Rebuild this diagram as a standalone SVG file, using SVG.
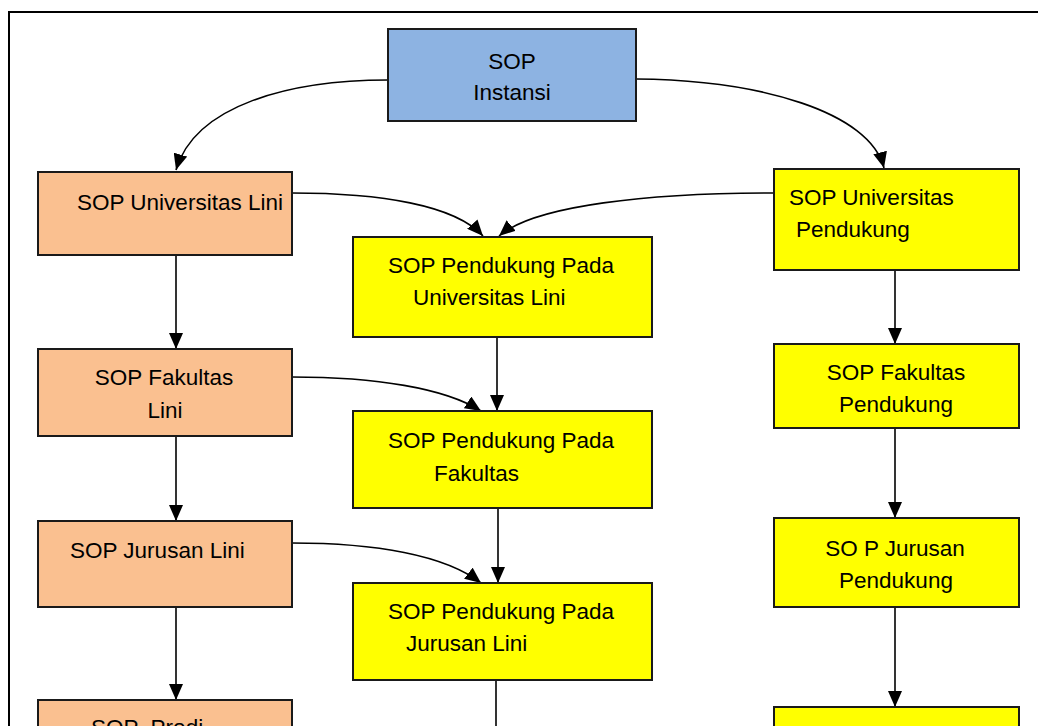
<svg xmlns="http://www.w3.org/2000/svg" width="1038" height="726" viewBox="0 0 1038 726">
<style>
.box{stroke:#1a1a1a;stroke-width:2}
.blue{fill:#8DB3E2}
.orange{fill:#FAC090}
.yellow{fill:#FFFF00}
text{font-family:"Liberation Sans",Arial,sans-serif;font-size:22.5px;fill:#000}
.c{text-anchor:middle}
.con{fill:none;stroke:#000;stroke-width:1.6;marker-end:url(#ah)}
</style>
<defs>
<marker id="ah" markerWidth="16" markerHeight="14" viewBox="0 0 16 14" refX="16" refY="7" orient="auto" markerUnits="userSpaceOnUse">
<path d="M0,0 L16,7 L0,14 Z" fill="#000"/>
</marker>
</defs>
<rect width="1038" height="726" fill="#fff"/>
<rect x="9" y="12" width="1060" height="760" fill="none" stroke="#000" stroke-width="2"/>

<g id="connectors">
<path class="con" d="M388,80 C290,80 195,105 176,170"/>
<path class="con" d="M636,79 C760,80 870,112 884,168"/>
<path class="con" d="M292,193 C380,193 455,205 483,236"/>
<path class="con" d="M774,193 C650,193 535,205 499,236"/>
<path class="con" d="M292,377 C375,377 445,388 481,411"/>
<path class="con" d="M292,543 C375,543 445,555 481,583"/>
<path class="con" d="M176,255 L176,349"/>
<path class="con" d="M176,436 L176,521"/>
<path class="con" d="M176,607 L176,700"/>
<path class="con" d="M497,337 L497,411"/>
<path class="con" d="M498,508 L498,583"/>
<path fill="none" stroke="#000" stroke-width="1.6" d="M496,680 L496,726"/>
<path class="con" d="M895,270 L895,344"/>
<path class="con" d="M895,428 L895,518"/>
<path class="con" d="M895,607 L895,707"/>
</g>

<g id="sop-instansi">
<rect class="box blue" x="388" y="29" width="248" height="92"/>
<text class="c" x="512" y="69">SOP</text>
<text class="c" x="512" y="100">Instansi</text>
</g>

<g id="sop-universitas-lini">
<rect class="box orange" x="38" y="172" width="254" height="83"/>
<text x="77" y="210">SOP Universitas Lini</text>
</g>

<g id="sop-fakultas-lini">
<rect class="box orange" x="38" y="349" width="254" height="87"/>
<text class="c" x="164" y="385">SOP Fakultas</text>
<text class="c" x="165" y="418">Lini</text>
</g>

<g id="sop-jurusan-lini">
<rect class="box orange" x="38" y="521" width="254" height="86"/>
<text x="70" y="558">SOP Jurusan Lini</text>
</g>

<g id="sop-prodi">
<rect class="box orange" x="38" y="700" width="254" height="60"/>
<text x="91" y="735" style="white-space:pre">SOP  Prodi</text>
</g>

<g id="sop-pendukung-universitas-lini">
<rect class="box yellow" x="353" y="237" width="299" height="100"/>
<text x="388" y="273">SOP Pendukung Pada</text>
<text x="413" y="305">Universitas Lini</text>
</g>

<g id="sop-pendukung-fakultas">
<rect class="box yellow" x="353" y="411" width="299" height="97"/>
<text x="388" y="448">SOP Pendukung Pada</text>
<text x="434" y="481">Fakultas</text>
</g>

<g id="sop-pendukung-jurusan-lini">
<rect class="box yellow" x="353" y="583" width="299" height="97"/>
<text x="388" y="619">SOP Pendukung Pada</text>
<text x="406" y="651">Jurusan Lini</text>
</g>

<g id="sop-universitas-pendukung">
<rect class="box yellow" x="774" y="169" width="245" height="101"/>
<text x="789" y="205">SOP Universitas</text>
<text x="796" y="237">Pendukung</text>
</g>

<g id="sop-fakultas-pendukung">
<rect class="box yellow" x="774" y="344" width="245" height="84"/>
<text class="c" x="896" y="380">SOP Fakultas</text>
<text class="c" x="896" y="412">Pendukung</text>
</g>

<g id="sop-jurusan-pendukung">
<rect class="box yellow" x="774" y="518" width="245" height="89"/>
<text class="c" x="895" y="556">SO P Jurusan</text>
<text class="c" x="896" y="588">Pendukung</text>
</g>

<g id="sop-prodi-pendukung">
<rect class="box yellow" x="774" y="707" width="245" height="60"/>
</g>
</svg>
